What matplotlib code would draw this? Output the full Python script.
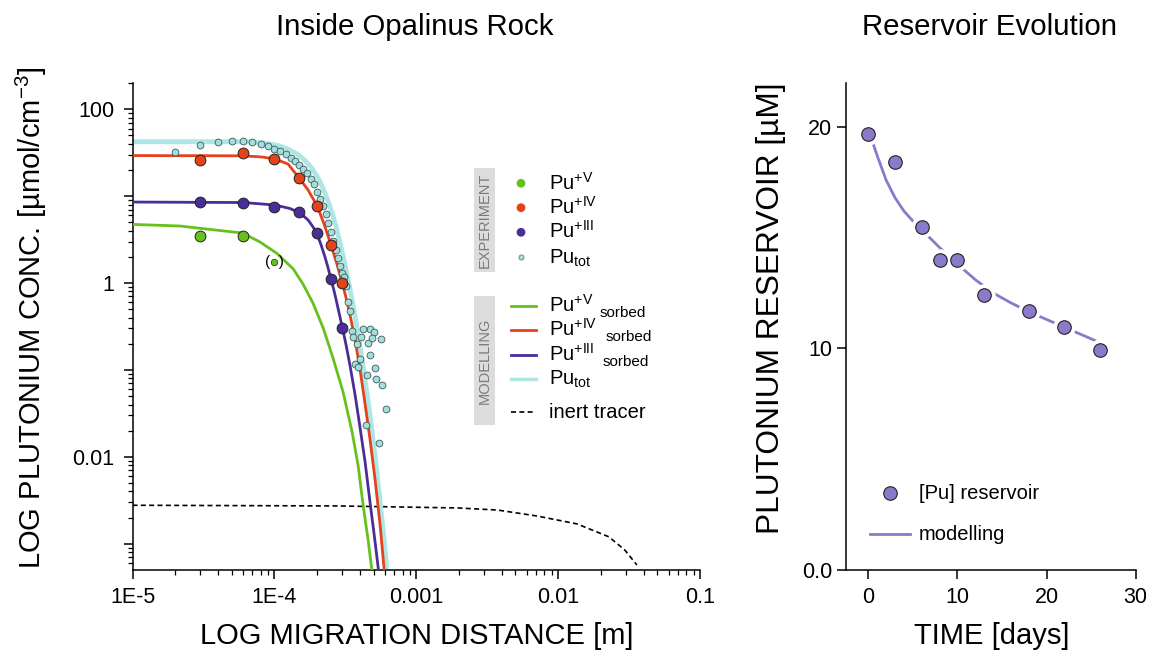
import matplotlib
matplotlib.use('Agg')
import matplotlib.pyplot as plt
from matplotlib.ticker import LogLocator, NullFormatter

plt.rcParams['font.family'] = ['Liberation Sans', 'DejaVu Sans']
plt.rcParams['mathtext.fontset'] = 'custom'
plt.rcParams['mathtext.rm'] = 'Liberation Sans'
plt.rcParams['mathtext.it'] = 'Liberation Sans:italic'
plt.rcParams['mathtext.bf'] = 'Liberation Sans:bold'

# ---- left panel, experiment (distance in m, conc. in umol/cm3)
pu5_x = [3e-5, 6e-5]
pu5_y = [3.45, 3.5]
pu5_odd_x = [1e-4]
pu5_odd_y = [1.73]
pu4_x = [3e-5, 6e-5, 1e-4, 1.5e-4, 2e-4, 2.5e-4, 3e-4]
pu4_y = [25.8, 31.1, 26.7, 16.0, 7.76, 2.72, 0.99]
pu3_x = [3e-5, 6e-5, 1e-4, 1.5e-4, 2e-4, 2.5e-4, 3e-4]
pu3_y = [8.55, 8.4, 7.55, 6.51, 3.73, 1.10, 0.306]
tot_x = [2.0e-5, 3.0e-5, 4.0e-5, 5.0e-5, 6.0e-5, 7.0e-5, 8.0e-5, 9.0e-5,
         1.0e-4, 1.1e-4, 1.2e-4, 1.3e-4, 1.4e-4, 1.5e-4, 1.6e-4, 1.7e-4,
         1.8e-4, 1.9e-4, 2.0e-4, 2.1e-4, 2.2e-4, 2.3e-4, 2.4e-4, 2.5e-4,
         2.6e-4, 2.7e-4, 2.8e-4, 2.9e-4, 3.0e-4, 3.1e-4, 3.2e-4, 3.3e-4,
         3.4e-4, 3.5e-4, 3.6e-4, 3.8e-4, 4.0e-4, 3.7e-4, 3.9e-4, 4.2e-4,
         4.1e-4, 4.6e-4, 4.7e-4, 5.0e-4, 4.9e-4, 5.6e-4, 4.7e-4, 5.1e-4,
         4.5e-4, 5.2e-4, 5.7e-4, 6.1e-4, 4.4e-4, 5.5e-4]
tot_y = [31.9, 38.4, 41.7, 43.3, 43.6, 42.2, 40.1, 37.7,
         35.0, 32.8, 30.5, 27.8, 25.2, 22.8, 20.5, 18.4,
         15.9, 13.7, 11.3, 9.38, 7.69, 6.22, 4.97, 3.83,
         3.06, 2.37, 1.94, 1.57, 1.29, 1.18, 0.92, 0.597,
         0.472, 0.283, 0.241, 0.199, 0.134, 0.117, 0.107, 0.293,
         0.241, 0.206, 0.293, 0.271, 0.231, 0.225, 0.148, 0.105,
         0.0874, 0.078, 0.067, 0.0358, 0.0232, 0.0144]

# ---- left panel, modelling curves
m5_x = [1e-5, 2.16e-5, 3.0e-5, 5.98e-5, 7.93e-5, 1.04e-4, 1.36e-4, 1.59e-4,
        1.87e-4, 2.21e-4, 2.59e-4, 3.05e-4, 3.53e-4, 3.89e-4, 4.22e-4, 4.58e-4, 4.86e-4]
m5_y = [4.73, 4.53, 4.26, 3.76, 2.96, 2.20, 1.45, 0.974,
        0.589, 0.303, 0.137, 0.0557, 0.0193, 8.04e-3, 2.79e-3, 1.10e-3, 5.05e-4]
m4_x = [1e-5, 6.02e-5, 8.19e-5, 1.011e-4, 1.249e-4, 1.501e-4, 1.729e-4, 2.0e-4,
        2.241e-4, 2.511e-4, 2.768e-4, 3.017e-4, 3.256e-4, 3.474e-4, 3.707e-4,
        4.020e-4, 4.360e-4, 4.729e-4, 5.13e-4, 5.563e-4, 5.94e-4]
m4_y = [29.3, 29.1, 28.2, 26.7, 23.4, 16.0, 11.75, 7.75,
        4.77, 2.72, 1.63, 0.992, 0.604, 0.375, 0.221,
        0.0997, 0.0405, 0.0156, 5.41e-3, 1.64e-3, 5.05e-4]
m3_x = [1e-5, 6.02e-5, 1.011e-4, 1.29e-4, 1.518e-4, 1.729e-4, 1.875e-4, 2.0e-4,
        2.135e-4, 2.278e-4, 2.392e-4, 2.511e-4, 2.636e-4, 2.768e-4, 2.906e-4,
        3.017e-4, 3.203e-4, 3.418e-4, 3.707e-4, 4.020e-4, 4.360e-4, 4.729e-4,
        5.046e-4, 5.412e-4]
m3_y = [8.55, 8.44, 7.90, 7.20, 6.39, 5.31, 4.41, 3.66,
        2.74, 1.97, 1.49, 1.10, 0.809, 0.573, 0.401,
        0.306, 0.193, 0.111, 0.0514, 0.0215, 8.71e-3, 2.94e-3,
        1.29e-3, 5.05e-4]
mtot_x = [1e-5, 6.74e-5, 8.60e-5, 1.062e-4, 1.249e-4, 1.446e-4, 1.646e-4, 1.844e-4,
          2.033e-4, 2.205e-4, 2.392e-4, 2.552e-4, 2.723e-4, 2.906e-4, 3.101e-4,
          3.309e-4, 3.531e-4, 3.768e-4, 4.020e-4, 4.360e-4, 4.729e-4, 5.13e-4,
          5.563e-4, 5.94e-4, 6.20e-4]
mtot_y = [42.3, 42.3, 40.8, 38.2, 34.8, 30.5, 25.7, 20.8,
          16.2, 12.2, 8.78, 6.39, 4.41, 2.89, 1.82,
          1.10, 0.637, 0.351, 0.183, 0.0765, 0.0295, 0.0102,
          3.02e-3, 1.10e-3, 5.05e-4]
tracer_x = [1e-5, 2.84e-4, 1.96e-3, 3.75e-3, 7.15e-3, 0.0136, 0.0228, 0.0295, 0.0359]
tracer_y = [2.77e-3, 2.72e-3, 2.58e-3, 2.44e-3, 2.08e-3, 1.69e-3, 1.20e-3, 8.47e-4, 5.69e-4]

x_ticks = [1e-5, 1e-4, 1e-3, 1e-2, 1e-1]
x_labels = ['1E-5', '1E-4', '0.001', '0.01', '0.1']
y_ticks = [1e-3, 1e-2, 1e-1, 1, 10, 100]
y_labels = ['', '0.01', '', '1', '', '100']

# ---- right panel
res_days = [0, 3, 6, 8, 10, 13, 18, 22, 26]
res_val = [19.7, 18.4, 15.5, 14.0, 14.0, 12.4, 11.7, 10.95, 9.9]
fit_days = [0.5, 1, 2, 3, 4, 5, 6, 7, 8, 10, 12, 14, 16, 18, 20, 22, 24, 26]
fit_val = [19.3, 18.7, 17.6, 16.8, 16.2, 15.75, 15.35, 14.95, 14.55, 13.8, 13.1,
           12.5, 12.05, 11.65, 11.3, 10.95, 10.6, 10.25]

GREEN = '#66c21a'
RED = '#e5411b'
PURPLE = '#4a2d96'
CYAN_LINE = '#aee6e6'
CYAN = '#a4dedb'
LAV = '#8b79c9'
EDGE = '#222222'

W, H = 1151, 653
fig = plt.figure(figsize=(W / 100, H / 100), dpi=100)
ax1 = fig.add_axes([132.5 / W, 1 - 569.5 / H, 567.5 / W, 486.8 / H])
ax2 = fig.add_axes([846 / W, 1 - 569.5 / H, 289.7 / W, 486.8 / H])

for ax in (ax1, ax2):
    ax.spines[['top', 'right']].set_visible(False)
    ax.spines[['left', 'bottom']].set_linewidth(1.1)
    ax.tick_params(which='major', direction='out', length=6.5, width=1.1, labelsize=15.5)
    ax.tick_params(which='minor', direction='out', length=3.3, width=0.9)

# left panel
ax1.set_xscale('log')
ax1.set_yscale('log')
ax1.plot(tracer_x, tracer_y, ls=(0, (3, 2)), color='black', lw=1.2)
ax1.plot(m4_x, m4_y, color=RED, lw=2.0, zorder=3)
ax1.plot(mtot_x, mtot_y, color=CYAN_LINE, lw=3.5, zorder=2)
ax1.plot(m3_x, m3_y, color=PURPLE, lw=2.0, zorder=3)
ax1.plot(m5_x, m5_y, color=GREEN, lw=2.0, zorder=3)
ax1.scatter(tot_x, tot_y, s=24, color=CYAN, edgecolor='#3a5a5a', linewidth=0.6, zorder=4)
ax1.scatter(pu4_x, pu4_y, s=60, color=RED, edgecolor=EDGE, linewidth=0.7, zorder=5)
ax1.scatter(pu3_x, pu3_y, s=60, color=PURPLE, edgecolor=EDGE, linewidth=0.7, zorder=5)
ax1.scatter(pu5_x, pu5_y, s=60, color=GREEN, edgecolor=EDGE, linewidth=0.7, zorder=5)
ax1.scatter(pu5_odd_x, pu5_odd_y, s=22, color=GREEN, edgecolor=EDGE, linewidth=0.5, zorder=5)
ax1.text(pu5_odd_x[0], pu5_odd_y[0], '(  )', ha='center', va='center', fontsize=11)

ax1.set_xlim(1e-5, 0.1)
ax1.set_ylim(5.05e-4, 202)
ax1.set_xticks(x_ticks, labels=x_labels)
ax1.xaxis.set_minor_locator(LogLocator(base=10, subs=range(2, 10), numticks=20))
ax1.xaxis.set_minor_formatter(NullFormatter())
ax1.set_yticks(y_ticks, labels=y_labels)
ax1.yaxis.set_minor_locator(LogLocator(base=10, subs=range(2, 10), numticks=20))
ax1.yaxis.set_minor_formatter(NullFormatter())
ax1.tick_params(axis='y', pad=6.5)
ax1.tick_params(axis='x', pad=6)

# right panel
ax2.plot(fit_days, fit_val, color=LAV, lw=2.0, zorder=2)
ax2.scatter(res_days, res_val, s=260, color='white', linewidth=0, zorder=3)
ax2.scatter(res_days, res_val, s=95, color=LAV, edgecolor=EDGE, linewidth=0.8, zorder=4)
ax2.set_xlim(-2.5, 30)
ax2.set_ylim(0, 22)
ax2.set_xticks([0, 10, 20, 30])
ax2.set_yticks([0, 10, 20], labels=['0.0', '10', '20'])
ax2.tick_params(axis='y', pad=3.5)
ax2.tick_params(axis='x', pad=6)

# texts
fig.text(415 / W, 1 - 27 / H, 'Inside Opalinus Rock', ha='center', va='center', fontsize=21.2)
fig.text(990 / W, 1 - 27 / H, 'Reservoir Evolution', ha='center', va='center', fontsize=21.2)
fig.text(417 / W, 1 - 636 / H, 'LOG MIGRATION DISTANCE [m]', ha='center', va='center', fontsize=21)
fig.text(992 / W, 1 - 636 / H, 'TIME [days]', ha='center', va='center', fontsize=21)
fig.text(31 / W, 1 - 318 / H, r'LOG PLUTONIUM CONC. [µmol/cm$^{\mathrm{-3}}$]',
         ha='center', va='center', rotation=90, fontsize=21)
fig.text(771 / W, 1 - 308 / H, 'PLUTONIUM RESERVOIR [µM]',
         ha='center', va='center', rotation=90, fontsize=22.8)

# legend overlay in pixel coordinates
ov = fig.add_axes([0, 0, 1, 1])
ov.set_xlim(0, W)
ov.set_ylim(H, 0)
ov.axis('off')

ov.add_patch(plt.Rectangle((474, 168), 21, 104, color='#dcdcdc', lw=0))
ov.add_patch(plt.Rectangle((474, 296), 21, 129, color='#dcdcdc', lw=0))
ov.text(484.5, 220, 'EXPERIMENT', rotation=90, ha='center', va='center', fontsize=10.5, color='#7a7a7a')
ov.text(484.5, 360.5, 'MODELLING', rotation=90, ha='center', va='center', fontsize=10.5, color='#7a7a7a')

exp_items = [(GREEN, 183.3, r'Pu$^{\mathrm{+V}}$', 40),
             (RED, 207.7, r'Pu$^{\mathrm{+IV}}$', 40),
             (PURPLE, 232.3, r'Pu$^{\mathrm{+III}}$', 40),
             (CYAN, 257.3, r'Pu$_{\mathrm{tot}}$', 14)]
for col, yy, lab, sz in exp_items:
    ov.scatter([521], [yy], s=sz, color=col, edgecolor='#444444' if col == CYAN else 'none', linewidth=0.4)
    ov.text(549, yy + 6, lab, ha='left', va='baseline', fontsize=14.5)

mod_items = [(GREEN, 305.7, r'Pu$^{\mathrm{+V}}$', 600, 2.0),
             (RED, 330.0, r'Pu$^{\mathrm{+IV}}$', 605.7, 2.0),
             (PURPLE, 354.7, r'Pu$^{\mathrm{+III}}$', 603, 2.0),
             (CYAN_LINE, 379.0, r'Pu$_{\mathrm{tot}}$', None, 2.5)]
for col, yy, lab, sx, lw in mod_items:
    ov.plot([511, 536], [yy, yy], color=col, lw=lw)
    ov.text(549, yy + 6, lab, ha='left', va='baseline', fontsize=14.5)
    if sx is not None:
        ov.text(sx, yy + 11, 'sorbed', ha='left', va='baseline', fontsize=11)
ov.plot([511, 536], [411.7, 411.7], color='black', lw=1.2, ls=(0, (3, 2)))
ov.text(549, 418, 'inert tracer', ha='left', va='baseline', fontsize=14.5)

ov.scatter([890], [493.3], s=95, color=LAV, edgecolor=EDGE, linewidth=0.8)
ov.text(919, 493.3, '[Pu] reservoir', ha='left', va='center', fontsize=14.5)
ov.plot([870, 910], [534, 534], color=LAV, lw=2.0)
ov.text(919, 534, 'modelling', ha='left', va='center', fontsize=14.5)

fig.savefig('out.png', dpi=100)
